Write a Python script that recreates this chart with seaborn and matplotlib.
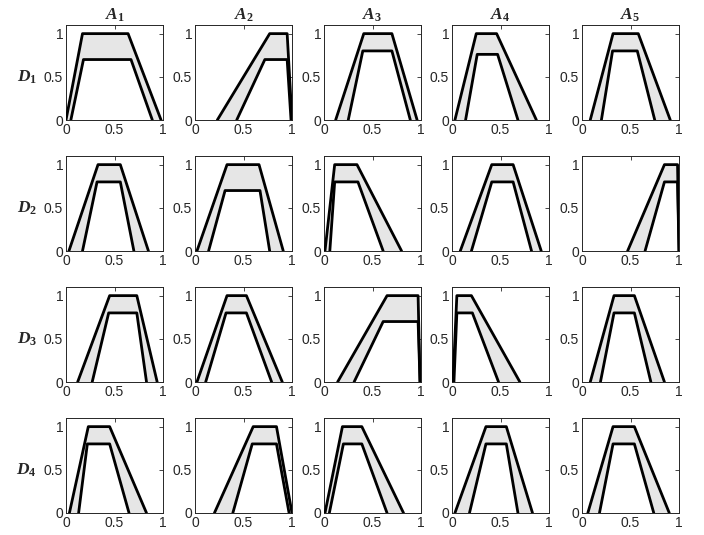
import seaborn as sns
import pandas as pd
import matplotlib
matplotlib.use("Agg")
import matplotlib.pyplot as plt

sns.set_style("white")
plt.rcParams['font.family'] = ['Liberation Sans', 'DejaVu Sans']
plt.rcParams['mathtext.fontset'] = 'custom'
plt.rcParams['mathtext.it'] = 'Liberation Serif:bold:italic'
plt.rcParams['mathtext.rm'] = 'Liberation Serif:bold'
plt.rcParams['mathtext.bf'] = 'Liberation Serif:bold'

alternatives = ["A_1", "A_2", "A_3", "A_4", "A_5"]
experts = ["D_1", "D_2", "D_3", "D_4"]

# upper trapezoids (a, b, c, d), height 1
D1_upper = [[0.00, 0.17, 0.64, 0.98], [0.23, 0.77, 0.95, 1.00], [0.12, 0.41, 0.70, 0.96],
            [0.03, 0.25, 0.46, 0.87], [0.085, 0.32, 0.58, 0.91]]
D2_upper = [[0.03, 0.33, 0.56, 0.85], [0.02, 0.33, 0.66, 0.91], [0.01, 0.11, 0.34, 0.80],
            [0.085, 0.41, 0.63, 0.92], [0.47, 0.85, 0.985, 1.00]]
D3_upper = [[0.12, 0.45, 0.73, 0.94], [0.02, 0.33, 0.53, 0.90], [0.14, 0.65, 0.97, 0.99],
            [0.01, 0.05, 0.20, 0.70], [0.085, 0.33, 0.54, 0.85]]
D4_upper = [[0.035, 0.23, 0.45, 0.83], [0.20, 0.60, 0.84, 1.00], [0.01, 0.19, 0.39, 0.82],
            [0.03, 0.35, 0.56, 0.83], [0.06, 0.32, 0.54, 0.90]]

# lower trapezoids (a, b, c, d) and their heights
D1_lower = [[0.05, 0.18, 0.67, 0.89], [0.43, 0.72, 0.95, 0.99], [0.25, 0.40, 0.70, 0.89],
            [0.14, 0.26, 0.47, 0.68], [0.20, 0.315, 0.57, 0.75]]
D2_lower = [[0.17, 0.32, 0.56, 0.70], [0.14, 0.31, 0.67, 0.77], [0.06, 0.11, 0.35, 0.61],
            [0.20, 0.41, 0.63, 0.82], [0.65, 0.85, 0.985, 1.00]]
D3_lower = [[0.27, 0.44, 0.73, 0.83], [0.11, 0.32, 0.53, 0.79], [0.31, 0.61, 0.97, 0.99],
            [0.02, 0.05, 0.21, 0.48], [0.19, 0.33, 0.54, 0.71]]
D4_lower = [[0.13, 0.22, 0.45, 0.65], [0.39, 0.59, 0.84, 0.97], [0.055, 0.20, 0.39, 0.65],
            [0.18, 0.35, 0.56, 0.68], [0.18, 0.32, 0.54, 0.74]]
D1_height = [0.7, 0.7, 0.8, 0.76, 0.8]
D2_height = [0.8, 0.7, 0.8, 0.8, 0.8]
D3_height = [0.8, 0.8, 0.7, 0.8, 0.8]
D4_height = [0.8, 0.8, 0.8, 0.8, 0.8]

upper = [D1_upper, D2_upper, D3_upper, D4_upper]
lower = [D1_lower, D2_lower, D3_lower, D4_lower]
heights = [D1_height, D2_height, D3_height, D4_height]

W, H = 704, 535
fig = plt.figure(figsize=(W / 100, H / 100), dpi=100)

col_x = [66, 195, 324, 452, 582]
row_top = [25, 156, 287, 418]
ax_w, ax_h = 97, 95
axis_col = '#262626'


def trap(p, h):
    return pd.DataFrame({"x": [p[0], p[1], p[2], p[3]], "y": [0, h, h, 0]})


for i in range(4):
    for j in range(5):
        ax = fig.add_axes([col_x[j] / W, 1 - (row_top[i] + ax_h) / H, ax_w / W, ax_h / H])
        up = trap(upper[i][j], 1.0)
        lo = trap(lower[i][j], heights[i][j])
        ax.fill(up["x"], up["y"], color='#e6e6e6', lw=0, zorder=1)
        ax.fill(lo["x"], lo["y"], color='white', lw=0, zorder=1.5)
        sns.lineplot(data=up, x="x", y="y", sort=False, estimator=None, color='black', lw=2, ax=ax, zorder=3)
        sns.lineplot(data=lo, x="x", y="y", sort=False, estimator=None, color='black', lw=2, ax=ax, zorder=3)
        ax.set_xlim(0, 1)
        ax.set_ylim(0, 1.1)
        ax.set_xticks([0, 0.5, 1])
        ax.set_xticklabels(['0', '0.5', '1'])
        ax.set_yticks([0, 0.5, 1])
        ax.set_yticklabels(['0', '0.5', '1'])
        ax.set_xlabel("")
        ax.set_ylabel("")
        ax.tick_params(direction='in', top=True, right=True, length=3, width=0.6,
                       labelsize=10, colors=axis_col, pad=2)
        for s in ax.spines.values():
            s.set_visible(True)
            s.set_color(axis_col)
            s.set_linewidth(0.7)
        if i == 0:
            ax.set_title('$' + alternatives[j] + '$', fontsize=12.5, pad=4)
        if j == 0:
            ax.text(-0.3, 0.5 / 1.1, '$' + experts[i] + '$', transform=ax.transAxes,
                    ha='right', va='center', fontsize=12.5)

fig.savefig("out.png", dpi=100)
